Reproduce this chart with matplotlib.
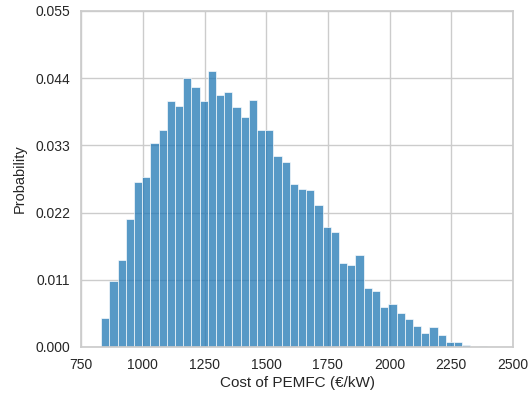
import numpy as np
import matplotlib
matplotlib.use("Agg")
import matplotlib.pyplot as plt
import seaborn as sns

# histogram of PEMFC cost, probability per bin
bin_start = 831.0
bin_width = 33.25
probs = [0.00475, 0.0108, 0.0142, 0.0210, 0.0270, 0.0279, 0.0334, 0.0355,
         0.0402, 0.0394, 0.0440, 0.0426, 0.0402, 0.0452, 0.0413, 0.0418,
         0.0393, 0.0376, 0.0404, 0.0356, 0.0355, 0.0313, 0.0303, 0.0266,
         0.0259, 0.0257, 0.0232, 0.0197, 0.0189, 0.0137, 0.0134, 0.0151,
         0.0097, 0.0091, 0.0066, 0.0070, 0.0055, 0.0046, 0.0035, 0.0023,
         0.0032, 0.0020, 0.00076, 0.00076, 0.00033, 0.0, 0.00022]
yticks = [0.000, 0.011, 0.022, 0.033, 0.044, 0.055]
xticks = [750, 1000, 1250, 1500, 1750, 2000, 2250, 2500]

edges = bin_start + bin_width * np.arange(len(probs) + 1)
centers = (edges[:-1] + edges[1:]) / 2

sns.set_theme(style="whitegrid")
plt.rcParams['font.family'] = ['Liberation Sans', 'DejaVu Sans']

fig = plt.figure(figsize=(5.31, 4.0), dpi=100)
ax = fig.add_axes([0.153, 0.1325, 0.813, 0.84])

# same look as seaborn histplot: tab blue, alpha .75, white edges
ax.hist(centers, bins=edges, weights=probs, color="#1f77b4", alpha=0.75,
        edgecolor="white", linewidth=0.6)

ax.set_xlim(750, 2500)
ax.set_ylim(0, 0.055)
ax.set_xticks(xticks)
ax.set_yticks(yticks)
ax.set_yticklabels([f"{v:.3f}" for v in yticks])
ax.tick_params(labelsize=10, pad=2)
ax.set_xlabel("Cost of PEMFC (€/kW)", fontsize=11, labelpad=3)
ax.set_ylabel("Probability", fontsize=10.5, labelpad=6)

fig.savefig("out.png", dpi=100)
